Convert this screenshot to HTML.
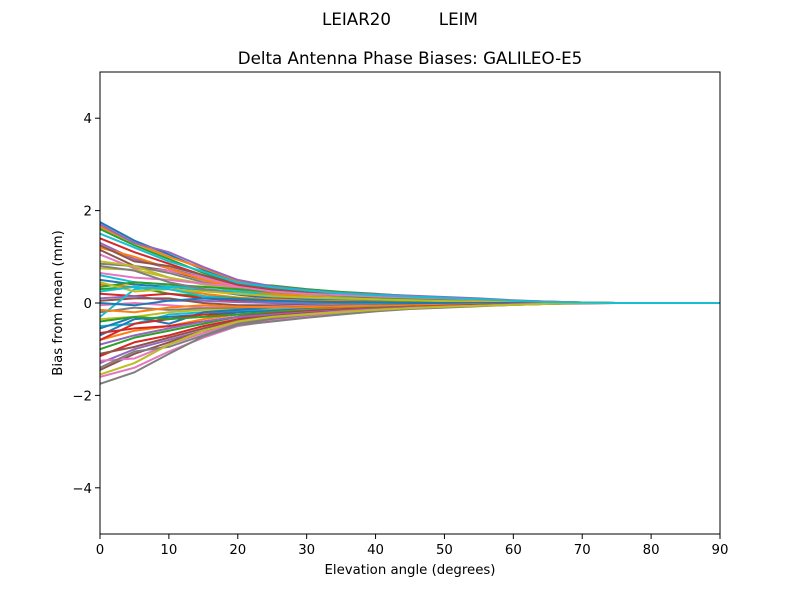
<!DOCTYPE html>
<html><head><meta charset="utf-8"><style>
body{margin:0;background:#fff;}
svg text{font-family:"DejaVu Sans","Liberation Sans",sans-serif;fill:#000;}
</style></head><body>
<svg id="chart" width="800" height="600" xmlns="http://www.w3.org/2000/svg">
<rect width="800" height="600" fill="#fff"/>
<text x="400" y="25" font-size="16.7" text-anchor="middle" xml:space="preserve">LEIAR20         LEIM</text>
<text x="410" y="64" font-size="16.7" text-anchor="middle">Delta Antenna Phase Biases: GALILEO-E5</text>
<defs><clipPath id="clip"><rect x="100" y="72" width="620" height="462"/></clipPath></defs>
<g id="lines" clip-path="url(#clip)"></g>
<g id="axes"></g>
<text x="410" y="574" font-size="13.3" text-anchor="middle">Elevation angle (degrees)</text>
<text x="0" y="0" font-size="13.3" text-anchor="middle" transform="translate(62,303) rotate(-90)">Bias from mean (mm)</text>
</svg>
<script>
const elevations=[0,5,10,15,20,25,30,35,40,45,50,55,60,65,70,75,80,85,90];
const xTicks=[0,10,20,30,40,50,60,70,80,90];
const yTicks=[-4,-2,0,2,4];
const yTickLabels=["\u22124","\u22122","0","2","4"];
const s1=[1.75,1.35,1.05,0.72,0.45,0.33,0.25,0.2,0.17,0.14,0.1,0.07,0.04,0.02,0.01,0,0,0,0];
const s2=[1.65,1.3,1.0,0.75,0.48,0.35,0.28,0.22,0.18,0.14,0.11,0.08,0.05,0.03,0.01,0,0,0,0];
const s3=[1.6,1.25,0.95,0.65,0.42,0.38,0.3,0.24,0.2,0.15,0.12,0.09,0.05,0.03,0.01,0,0,0,0];
const s4=[1.4,1.1,0.85,0.6,0.38,0.28,0.22,0.17,0.14,0.12,0.09,0.06,0.03,0.02,0.01,0,0,0,0];
const s5=[1.3,0.95,0.75,0.55,0.35,0.25,0.2,0.16,0.13,0.1,0.08,0.05,0.03,0.01,0,0,0,0,0];
const s6=[1.15,0.8,0.7,0.5,0.3,0.22,0.17,0.13,0.11,0.09,0.07,0.05,0.03,0.01,0,0,0,0,0];
const s7=[1.05,0.75,0.7,0.55,0.35,0.2,0.14,0.1,0.08,0.07,0.05,0.04,0.02,0.01,0,0,0,0,0];
const s8=[0.85,0.8,0.65,0.45,0.28,0.18,0.12,0.09,0.07,0.06,0.05,0.03,0.02,0.01,0,0,0,0,0];
const s9=[0.75,0.72,0.55,0.4,0.25,0.15,0.1,0.08,0.06,0.05,0.04,0.03,0.02,0.01,0,0,0,0,0];
const s10=[0.6,0.45,0.4,0.3,0.2,0.12,0.08,0.06,0.05,0.04,0.03,0.02,0.01,0,0,0,0,0,0];
const s11=[0.5,0.4,0.35,0.28,0.18,0.1,0.07,0.05,0.04,0.03,0.02,0.01,0.01,0,0,0,0,0,0];
const s12=[0.4,0.35,0.3,0.2,0.12,0.08,0.05,0.04,0.03,0.02,0.02,0.01,0,0,0,0,0,0,0];
const s13=[0.3,0.35,0.2,0.15,0.1,0.05,0.03,0.02,0.02,0.01,0.01,0,0,0,0,0,0,0,0];
const s14=[0.2,0.15,0.2,0.1,0.05,0.02,0.01,0,0,0,0,0,0,0,0,0,0,0,0];
const s15=[0.1,0.15,0.05,0.05,0.02,0,-0.02,-0.02,-0.02,-0.01,-0.01,0,0,0,0,0,0,0,0];
const s16=[0.05,0.1,0.1,0.0,-0.05,-0.05,-0.04,-0.03,-0.03,-0.02,-0.01,-0.01,0,0,0,0,0,0,0];
const s17=[-0.05,0.0,-0.05,-0.1,-0.1,-0.08,-0.06,-0.05,-0.04,-0.03,-0.02,-0.01,0,0,0,0,0,0,0];
const s18=[-0.2,-0.1,-0.15,-0.12,-0.12,-0.1,-0.08,-0.06,-0.05,-0.04,-0.03,-0.02,-0.01,0,0,0,0,0,0];
const s19=[-0.35,-0.3,-0.2,-0.15,-0.15,-0.12,-0.1,-0.08,-0.06,-0.05,-0.03,-0.02,-0.01,0,0,0,0,0,0];
const s20=[-0.5,-0.45,-0.25,-0.2,-0.18,-0.15,-0.12,-0.1,-0.08,-0.06,-0.04,-0.03,-0.02,-0.01,0,0,0,0,0];
const s21=[-0.7,-0.35,-0.3,-0.25,-0.2,-0.17,-0.13,-0.1,-0.08,-0.06,-0.05,-0.03,-0.02,-0.01,0,0,0,0,0];
const s22=[-0.8,-0.6,-0.5,-0.35,-0.25,-0.2,-0.15,-0.12,-0.1,-0.08,-0.06,-0.04,-0.02,-0.01,0,0,0,0,0];
const s23=[-1.0,-0.75,-0.6,-0.45,-0.3,-0.22,-0.18,-0.14,-0.11,-0.09,-0.07,-0.05,-0.03,-0.01,0,0,0,0,0];
const s24=[-1.15,-0.85,-0.7,-0.5,-0.35,-0.25,-0.2,-0.15,-0.12,-0.1,-0.07,-0.05,-0.03,-0.01,0,0,0,0,0];
const s25=[-1.3,-1.0,-0.8,-0.6,-0.42,-0.3,-0.22,-0.17,-0.13,-0.1,-0.08,-0.05,-0.03,-0.02,0,0,0,0,0];
const s26=[-1.45,-1.1,-0.85,-0.6,-0.45,-0.35,-0.28,-0.2,-0.15,-0.11,-0.08,-0.06,-0.03,-0.02,0,0,0,0,0];
const s27=[-1.6,-1.4,-1.05,-0.75,-0.5,-0.38,-0.3,-0.23,-0.17,-0.12,-0.09,-0.06,-0.04,-0.02,-0.01,0,0,0,0];
const s28=[-1.75,-1.5,-1.1,-0.72,-0.48,-0.4,-0.32,-0.25,-0.18,-0.13,-0.1,-0.07,-0.04,-0.02,-0.01,0,0,0,0];
const s29=[0.9,0.8,0.55,0.42,0.3,0.22,0.18,0.15,0.13,0.1,0.08,0.06,0.04,0.02,0.01,0,0,0,0];
const s30=[-0.3,0.3,0.35,0.3,0.25,0.18,0.12,0.1,0.08,0.06,0.05,0.03,0.02,0.01,0,0,0,0,0];
const s31=[-0.55,-0.3,-0.45,-0.2,-0.15,-0.1,-0.08,-0.06,-0.05,-0.04,-0.03,-0.02,-0.01,0,0,0,0,0,0];
const s32=[1.2,1.0,0.75,0.5,0.32,0.2,0.14,0.1,0.08,0.06,0.05,0.03,0.02,0.01,0,0,0,0,0];
const s33=[0.35,0.45,0.4,0.35,0.3,0.24,0.2,0.16,0.12,0.1,0.07,0.05,0.03,0.01,0,0,0,0,0];
const s34=[-0.8,-0.45,-0.35,-0.25,-0.25,-0.22,-0.18,-0.15,-0.12,-0.09,-0.06,-0.04,-0.02,-0.01,0,0,0,0,0];
const s35=[1.7,1.3,1.1,0.78,0.5,0.36,0.28,0.22,0.19,0.16,0.13,0.1,0.06,0.03,0.01,0,0,0,0];
const s36=[1.25,0.9,0.8,0.6,0.42,0.3,0.24,0.2,0.16,0.13,0.1,0.07,0.04,0.02,0,0,0,0,0];
const s37=[0.65,0.55,0.5,0.42,0.35,0.25,0.2,0.17,0.14,0.12,0.1,0.07,0.04,0.02,0,0,0,0,0];
const s38=[0.8,0.7,0.45,0.3,0.2,0.15,0.12,0.1,0.08,0.06,0.05,0.03,0.02,0.01,0,0,0,0,0];
const s39=[0.45,0.25,0.3,0.25,0.2,0.15,0.12,0.1,0.08,0.06,0.04,0.03,0.02,0.01,0,0,0,0,0];
const s40=[0.25,0.35,0.3,0.15,0.08,0.04,0.02,0.01,0,0,0,0,0,0,0,0,0,0,0];
const s41=[0.0,-0.05,0.05,0.1,0.08,0.05,0.03,0.02,0.01,0,0,0,0,0,0,0,0,0,0];
const s42=[-0.15,-0.2,-0.1,-0.05,-0.08,-0.1,-0.09,-0.07,-0.06,-0.05,-0.04,-0.03,-0.02,-0.01,0,0,0,0,0];
const s43=[-0.4,-0.3,-0.35,-0.3,-0.25,-0.2,-0.16,-0.13,-0.1,-0.08,-0.06,-0.04,-0.02,-0.01,0,0,0,0,0];
const s44=[-0.65,-0.55,-0.5,-0.4,-0.3,-0.23,-0.18,-0.14,-0.11,-0.08,-0.06,-0.04,-0.02,-0.01,0,0,0,0,0];
const s45=[-0.9,-0.7,-0.55,-0.4,-0.3,-0.25,-0.2,-0.16,-0.12,-0.09,-0.07,-0.05,-0.03,-0.01,0,0,0,0,0];
const s46=[-1.1,-0.95,-0.75,-0.55,-0.38,-0.28,-0.22,-0.17,-0.13,-0.1,-0.08,-0.05,-0.03,-0.01,0,0,0,0,0];
const s47=[-1.25,-1.2,-0.9,-0.65,-0.42,-0.3,-0.24,-0.18,-0.14,-0.11,-0.08,-0.06,-0.03,-0.02,0,0,0,0,0];
const s48=[-1.4,-1.05,-0.95,-0.7,-0.45,-0.33,-0.26,-0.2,-0.15,-0.11,-0.08,-0.06,-0.04,-0.02,0,0,0,0,0];
const s49=[-1.55,-1.3,-0.9,-0.6,-0.4,-0.3,-0.25,-0.2,-0.15,-0.11,-0.08,-0.06,-0.04,-0.02,0,0,0,0,0];
const s50=[1.5,1.2,0.9,0.68,0.44,0.34,0.27,0.21,0.17,0.14,0.11,0.08,0.05,0.02,0.01,0,0,0,0];
const seriesList=[s1,s2,s3,s4,s5,s6,s7,s8,s9,s10,s11,s12,s13,s14,s15,s16,s17,s18,s19,s20,s21,s22,s23,s24,s25,s26,s27,s28,s29,s30,s31,s32,s33,s34,s35,s36,s37,s38,s39,s40,s41,s42,s43,s44,s45,s46,s47,s48,s49,s50];
const colors=["#1f77b4","#ff7f0e","#2ca02c","#d62728","#9467bd","#8c564b","#e377c2","#7f7f7f","#bcbd22","#17becf"];
const NS="http://www.w3.org/2000/svg";
const X0=100,X1=720,Y0=534,Y1=72;
function xs(v){return X0+(v-0)/(90-0)*(X1-X0);}
function ys(v){return Y0-(v+5)/10*(Y0-Y1);}
const lg=document.getElementById('lines');
seriesList.forEach((s,i)=>{
  const p=document.createElementNS(NS,'polyline');
  p.setAttribute('points',s.map((v,j)=>xs(elevations[j]).toFixed(2)+','+ys(v).toFixed(2)).join(' '));
  p.setAttribute('fill','none');
  p.setAttribute('stroke',colors[i%10]);
  p.setAttribute('stroke-width','2');
  p.setAttribute('stroke-linejoin','round');
  
  
  lg.appendChild(p);
});
const ax=document.getElementById('axes');
const fr=document.createElementNS(NS,'rect');
fr.setAttribute('x',X0);fr.setAttribute('y',Y1);fr.setAttribute('width',X1-X0);fr.setAttribute('height',Y0-Y1);
fr.setAttribute('fill','none');fr.setAttribute('stroke','#000');fr.setAttribute('stroke-width','1');


ax.appendChild(fr);
xTicks.forEach(t=>{
  const l=document.createElementNS(NS,'line');
  l.setAttribute('x1',xs(t));l.setAttribute('x2',xs(t));l.setAttribute('y1',Y0);l.setAttribute('y2',Y0+5);l.setAttribute('stroke','#000');
  
  
  ax.appendChild(l);
  const tx=document.createElementNS(NS,'text');
  tx.setAttribute('x',xs(t));tx.setAttribute('y',Y0+20);tx.setAttribute('font-size','13.3');tx.setAttribute('text-anchor','middle');
  tx.textContent=t;
  
  
  ax.appendChild(tx);
});
yTicks.forEach((t,i)=>{
  const l=document.createElementNS(NS,'line');
  l.setAttribute('x1',X0-5);l.setAttribute('x2',X0);l.setAttribute('y1',ys(t));l.setAttribute('y2',ys(t));l.setAttribute('stroke','#000');
  
  
  ax.appendChild(l);
  const tx=document.createElementNS(NS,'text');
  tx.setAttribute('x',X0-8);tx.setAttribute('y',ys(t)+5);tx.setAttribute('font-size','13.3');tx.setAttribute('text-anchor','end');
  tx.textContent=yTickLabels[i];
  
  
  ax.appendChild(tx);
});
</script>
</body></html>
